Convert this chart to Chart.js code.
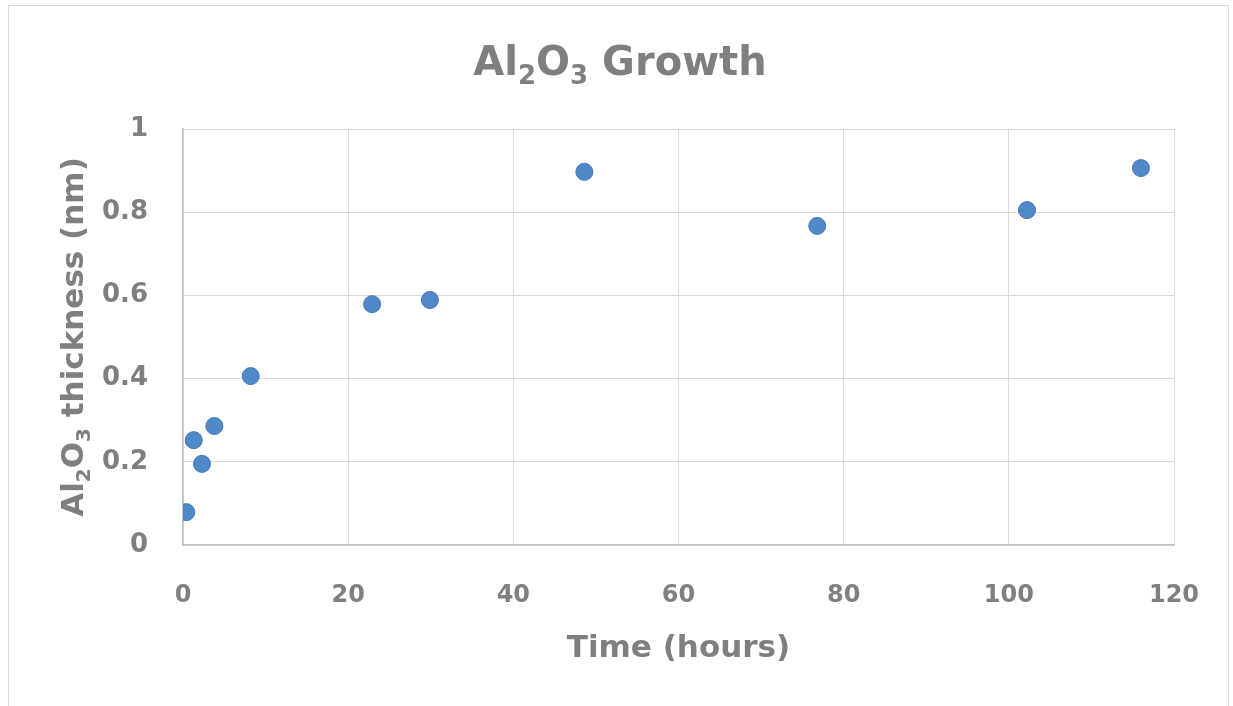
<!DOCTYPE html>
<html>
<head>
<meta charset="utf-8">
<script src="https://cdn.jsdelivr.net/npm/chart.js@4/dist/chart.umd.min.js"></script>
<style>
  html, body { margin: 0; padding: 0; background: #fff; }
  #wrap { width: 1233px; height: 706px; position: relative; }
</style>
</head>
<body>
<div id="wrap"><canvas id="growthChart"></canvas></div>
<script>
// data
const timeHours = [0.4, 1.3, 2.3, 3.8, 8.2, 22.9, 29.9, 48.6, 76.8, 102.2, 116.0];
const thickness = [0.079, 0.252, 0.195, 0.286, 0.406, 0.579, 0.589, 0.897, 0.767, 0.805, 0.906];
const xTicks = [0, 20, 40, 60, 80, 100, 120];
const yTicks = [0, 0.2, 0.4, 0.6, 0.8, 1];

const titleParts = [['Al'], ['2', true], ['O'], ['3', true], [' Growth']];
const yTitleParts = [['Al'], ['2', true], ['O'], ['3', true], [' thickness (nm)']];

const textGrey = '#7f7f7f';
const fontName = "'DejaVu Sans', 'Open Sans', sans-serif";

function pairs(x, y) {
    const out = [];
    for (let i = 0; i < x.length; i++) out.push({ x: x[i], y: y[i] });
    return out;
}

// text with subscripts, centred on cx
function drawRich(ctx, parts, cx, baseY, size) {
    const subSize = Math.round(size * 0.65);
    let total = 0;
    parts.forEach(p => {
        ctx.font = 'bold ' + (p[1] ? subSize : size) + 'px ' + fontName;
        total += ctx.measureText(p[0]).width;
    });
    let x = cx - total / 2;
    ctx.textAlign = 'left';
    ctx.textBaseline = 'alphabetic';
    parts.forEach(p => {
        ctx.font = 'bold ' + (p[1] ? subSize : size) + 'px ' + fontName;
        ctx.fillText(p[0], x, baseY + (p[1] ? size * 0.22 : 0));
        x += ctx.measureText(p[0]).width;
    });
}

const richText = {
    id: 'richText',
    beforeDraw(chart) {
        const ctx = chart.ctx;
        ctx.save();
        ctx.fillStyle = '#fff';
        ctx.fillRect(0, 0, chart.width, chart.height);
        ctx.strokeStyle = '#d9d9d9';
        ctx.lineWidth = 1;
        ctx.strokeRect(8.5, 5.5, 1220, 720);
        ctx.restore();
    },
    afterDraw(chart) {
        const ctx = chart.ctx;
        ctx.save();
        ctx.fillStyle = textGrey;
        drawRich(ctx, titleParts, 620, 75, 40);
        ctx.translate(83, 337);
        ctx.rotate(-Math.PI / 2);
        drawRich(ctx, yTitleParts, 0, 0, 31);
        ctx.restore();
    }
};

new Chart(document.getElementById('growthChart'), {
    type: 'scatter',
    data: {
        datasets: [{
            label: 'Al2O3 thickness',
            data: pairs(timeHours, thickness),
            backgroundColor: '#5089c8',
            borderColor: '#4177b6',
            borderWidth: 1,
            pointRadius: 8.5,
            pointHoverRadius: 8.5
        }]
    },
    options: {
        responsive: true,
        maintainAspectRatio: false,
        animation: false,
        layout: { padding: { left: 0, right: 59, top: 129, bottom: 0 } },
        plugins: {
            legend: { display: false },
            title: { display: false },
            tooltip: { enabled: false }
        },
        scales: {
            x: {
                type: 'linear',
                min: 0,
                max: 120,
                afterBuildTicks: s => { s.ticks = xTicks.map(v => ({ value: v })); },
                afterFit: s => { s.height = 161; s.paddingLeft = 0; s.paddingRight = 0; },
                grid: { color: '#d9d9d9', lineWidth: 1, drawTicks: false },
                border: { color: '#bfbfbf', width: 1.5 },
                ticks: {
                    padding: 36,
                    color: textGrey,
                    font: { family: fontName, size: 24, weight: 'bold' }
                },
                title: {
                    display: true,
                    text: 'Time (hours)',
                    color: textGrey,
                    font: { family: fontName, size: 31, weight: 'bold' },
                    padding: { top: 0, bottom: 38 }
                }
            },
            y: {
                type: 'linear',
                min: 0,
                max: 1,
                afterBuildTicks: s => { s.ticks = yTicks.map(v => ({ value: v })); },
                afterFit: s => { s.width = 183; s.paddingTop = 0; s.paddingBottom = 0; },
                grid: { color: '#d9d9d9', lineWidth: 1, drawTicks: false },
                border: { color: '#bfbfbf', width: 1.5 },
                ticks: {
                    padding: 35,
                    color: textGrey,
                    font: { family: fontName, size: 26, weight: 'bold' },
                    callback: v => String(v)
                }
            }
        }
    },
    plugins: [richText]
});
</script>
</body>
</html>
